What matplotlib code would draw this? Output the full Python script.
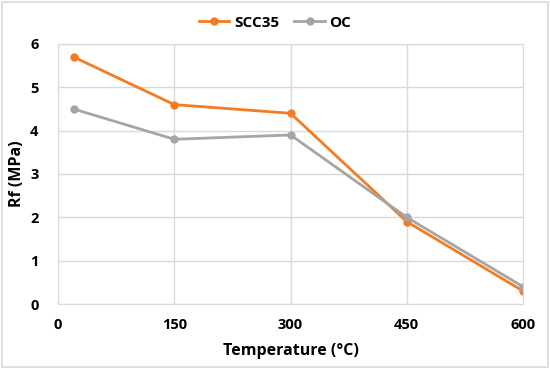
import matplotlib
matplotlib.use("Agg")
from matplotlib import pyplot as plt
from matplotlib.patches import Rectangle

temperature = [20, 150, 300, 450, 600]
scc35 = [5.7, 4.6, 4.4, 1.9, 0.3]
oc = [4.5, 3.8, 3.9, 2.0, 0.4]
x_ticks = [0, 150, 300, 450, 600]
y_ticks = [0, 1, 2, 3, 4, 5, 6]

plt.rcParams['font.family'] = ['Open Sans', 'DejaVu Sans']

fig = plt.figure(figsize=(5.5, 3.69), dpi=100)
ax = fig.add_axes([0.1055, 0.176, 0.8455, 0.705])

# outer chart border
fig.patches.append(Rectangle((0.004, 0.005), 0.992, 0.99, transform=fig.transFigure,
                             fill=False, edgecolor='#d9d9d9', linewidth=1.2))

ax.plot(temperature, scc35, color='#f47b20', linewidth=2, marker='o', markersize=5, label='SCC35')
ax.plot(temperature, oc, color='#a5a5a5', linewidth=2, marker='o', markersize=5, label='OC')

ax.set_xlim(0, 600)
ax.set_ylim(0, 6)
ax.set_xticks(x_ticks)
ax.set_yticks(y_ticks)
ax.grid(True, color='#d9d9d9', linewidth=1)
ax.set_axisbelow(True)
for s in ax.spines.values():
    s.set_color('#d9d9d9')
ax.tick_params(axis='x', length=0, labelsize=10.5, pad=10)
ax.tick_params(axis='y', length=0, labelsize=10.5, pad=14)
for lab in ax.get_xticklabels() + ax.get_yticklabels():
    lab.set_fontweight('bold')

ax.set_xlabel('Temperature (°C)', fontsize=11.5, fontweight='bold', labelpad=8)
ax.set_ylabel('Rf (MPa)', fontsize=11.5, fontweight='bold', labelpad=4)

leg = fig.legend(loc='upper center', bbox_to_anchor=(0.5, 0.995), ncol=2, frameon=False,
                 prop={'weight': 'bold', 'size': 11}, handlelength=2, columnspacing=1.0,
                 handletextpad=0.3)

fig.savefig('out.png', dpi=100)
